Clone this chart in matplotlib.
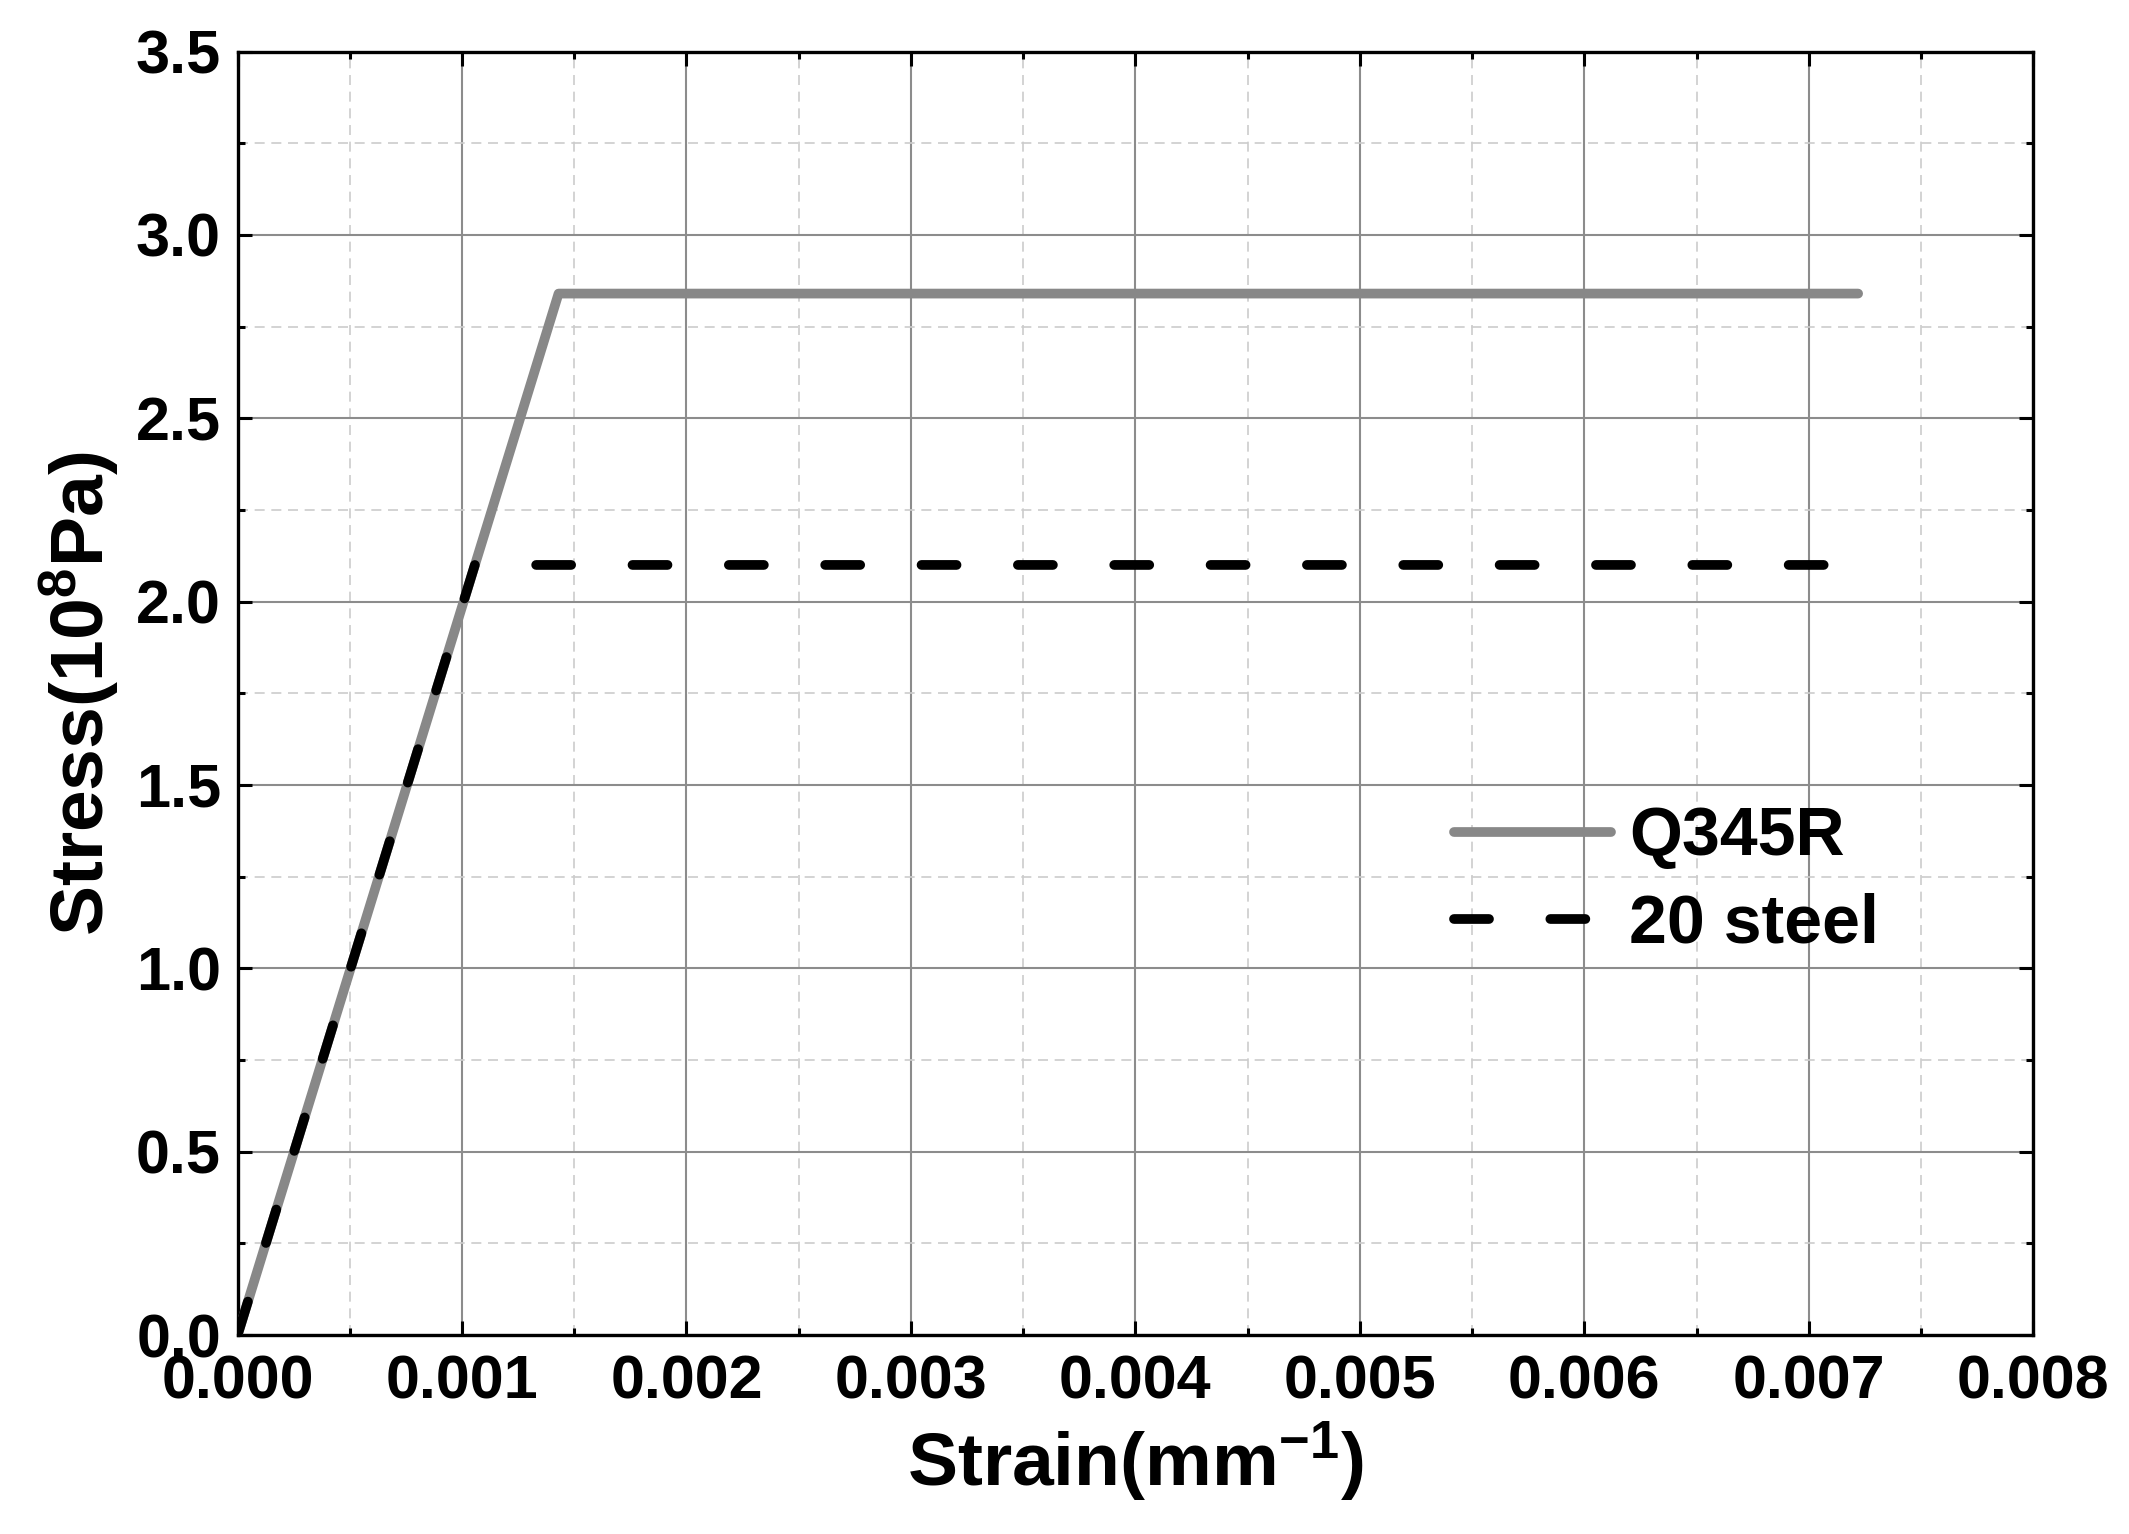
import matplotlib
matplotlib.use("Agg")
import matplotlib.pyplot as plt
from matplotlib.ticker import MultipleLocator, FormatStrFormatter

plt.rcParams['font.family'] = ['Liberation Sans', 'DejaVu Sans']
plt.rcParams['font.weight'] = 'bold'
plt.rcParams['mathtext.fontset'] = 'custom'
plt.rcParams['mathtext.rm'] = 'Liberation Sans:bold'
plt.rcParams['mathtext.default'] = 'rm'

# Data
q345r_strain = [0.0, 0.00143, 0.00722]
q345r_stress = [0.0, 2.84, 2.84]
steel20_strain = [0.0, 0.001057, 0.00708]
steel20_stress = [0.0, 2.10, 2.10]

fig = plt.figure(figsize=(21.29, 15.34), dpi=100)
ax = fig.add_axes([0.1116, 0.1297, 0.955 - 0.1116, 0.9664 - 0.1297])

ax.plot(q345r_strain, q345r_stress, color='#888888', lw=7, solid_capstyle='round',
        solid_joinstyle='round', label='Q345R', zorder=3)
ax.plot(steel20_strain, steel20_stress, color='black', lw=7, linestyle=(0, (3.6, 6.31)),
        dash_capstyle='round', label='20 steel', zorder=4)

ax.set_xlim(0, 0.008)
ax.set_ylim(0, 3.5)
ax.xaxis.set_major_locator(MultipleLocator(0.001))
ax.xaxis.set_minor_locator(MultipleLocator(0.0005))
ax.yaxis.set_major_locator(MultipleLocator(0.5))
ax.yaxis.set_minor_locator(MultipleLocator(0.25))
ax.xaxis.set_major_formatter(FormatStrFormatter('%.3f'))
ax.yaxis.set_major_formatter(FormatStrFormatter('%.1f'))

ax.grid(which='major', color='#8c8c8c', lw=1.5, ls='-', zorder=0)
ax.grid(which='minor', color='#cccccc', lw=1.2, ls=(0, (6, 4)), zorder=0)
ax.set_axisbelow(True)

for s in ax.spines.values():
    s.set_linewidth(2.4)

ax.tick_params(which='both', direction='in', top=True, right=True, width=2.2, colors='black')
ax.tick_params(which='major', length=10, labelsize=44)
ax.tick_params(axis='x', which='major', pad=14)
ax.tick_params(axis='y', which='major', pad=12)
ax.tick_params(which='minor', length=5)
for lab in ax.get_xticklabels() + ax.get_yticklabels():
    lab.set_fontweight('bold')

ax.set_xlabel('Strain(mm$^{-1}$)', fontsize=54, fontweight='bold', labelpad=6)
ax.set_ylabel('Stress(10$^{8}$Pa)', fontsize=54, fontweight='bold', labelpad=10)

leg = ax.legend(loc='upper left', bbox_to_anchor=(0.6775, 0.4126), frameon=False,
                fontsize=49, handlelength=2.31, handletextpad=0.26, labelspacing=0.34,
                borderaxespad=0, borderpad=0)
for t in leg.get_texts():
    t.set_fontweight('bold')

fig.savefig('out.png', dpi=100)
